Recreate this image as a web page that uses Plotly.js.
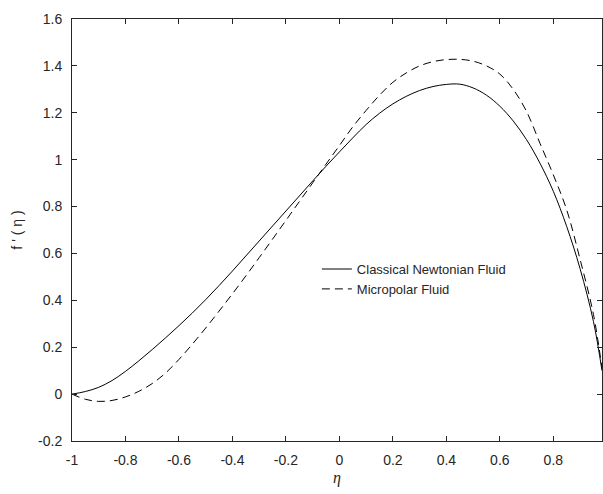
<!DOCTYPE html>
<html>
<head>
<meta charset="utf-8">
<script src="https://cdn.plot.ly/plotly-3.0.1.min.js"></script>
<style>
  html, body { margin: 0; padding: 0; background: #ffffff; }
  #chart { width: 603px; height: 494px; }
</style>
</head>
<body>
<div id="chart"></div>
<script>
// eta values (x axis)
var eta = [-1, -0.95, -0.9, -0.85, -0.8, -0.75, -0.7, -0.65, -0.6, -0.55, -0.5, -0.45, -0.4, -0.35, -0.3,
           -0.25, -0.2, -0.15, -0.1, -0.05, 0, 0.05, 0.1, 0.15, 0.2, 0.25, 0.3, 0.35, 0.4, 0.45,
           0.5, 0.55, 0.6, 0.65, 0.7, 0.75, 0.8, 0.85, 0.9, 0.95, 0.982];
// f'(eta) for the classical Newtonian fluid (solid)
var newtonian = [0, 0.011, 0.029, 0.058, 0.097, 0.142, 0.19, 0.24, 0.292, 0.346, 0.403, 0.463, 0.525, 0.589, 0.653,
                 0.717, 0.781, 0.845, 0.909, 0.972, 1.033, 1.093, 1.15, 1.198, 1.238, 1.27, 1.295, 1.312, 1.321, 1.322,
                 1.306, 1.275, 1.228, 1.165, 1.085, 0.985, 0.865, 0.715, 0.535, 0.31, 0.1];
// f'(eta) for the micropolar fluid (dashed)
var micropolar = [0, -0.022, -0.031, -0.027, -0.012, 0.012, 0.045, 0.09, 0.148, 0.213, 0.282, 0.354, 0.428, 0.504, 0.582,
                  0.661, 0.741, 0.821, 0.901, 0.981, 1.06, 1.14, 1.21, 1.275, 1.33, 1.37, 1.4, 1.418, 1.427, 1.428,
                  1.42, 1.4, 1.365, 1.3, 1.205, 1.07, 0.935, 0.786, 0.575, 0.34, 0.11];

var seriesNames = ['Classical Newtonian Fluid', 'Micropolar Fluid'];
var xTicks = [-1, -0.8, -0.6, -0.4, -0.2, 0, 0.2, 0.4, 0.6, 0.8];
var xTickText = ['-1', '-0.8', '-0.6', '-0.4', '-0.2', '0', '0.2', '0.4', '0.6', '0.8'];
var yTicks = [-0.2, 0, 0.2, 0.4, 0.6, 0.8, 1, 1.2, 1.4, 1.6];
var yTickText = ['-0.2', '0', '0.2', '0.4', '0.6', '0.8', '1', '1.2', '1.4', '1.6'];

var traces = [
  {
    x: eta, y: newtonian, name: seriesNames[0], type: 'scatter', mode: 'lines',
    line: { color: '#000000', width: 1, shape: 'spline', smoothing: 1 }
  },
  {
    x: eta, y: micropolar, name: seriesNames[1], type: 'scatter', mode: 'lines',
    line: { color: '#000000', width: 1, dash: '8px,5px', shape: 'spline', smoothing: 1 }
  }
];

var axisCommon = {
  showline: true, linecolor: '#262626', linewidth: 1, mirror: 'ticks',
  ticks: 'inside', ticklen: 5, tickwidth: 1, tickcolor: '#262626',
  showgrid: false, zeroline: false,
  tickfont: { family: 'Arial, "Liberation Sans", sans-serif', size: 14, color: '#262626' }
};

var layout = {
  width: 603, height: 494,
  margin: { l: 72, r: 1, t: 19, b: 53, pad: 0 },
  paper_bgcolor: '#ffffff', plot_bgcolor: '#ffffff',
  showlegend: true,
  legend: {
    x: 0.462, y: 0.443, xanchor: 'left', yanchor: 'top',
    bgcolor: 'rgba(255,255,255,0)', borderwidth: 0,
    font: { family: 'Arial, "Liberation Sans", sans-serif', size: 13, color: '#262626' },
    tracegroupgap: 0
  },
  xaxis: Object.assign({}, axisCommon, {
    range: [-1, 0.982], tickmode: 'array', tickvals: xTicks, ticktext: xTickText,
    ticklabelstandoff: 6,
    title: { text: '<i>η</i>', font: { family: '"Liberation Serif", "Times New Roman", serif', size: 16, color: '#262626' }, standoff: 5 }
  }),
  yaxis: Object.assign({}, axisCommon, {
    range: [-0.2, 1.6], tickmode: 'array', tickvals: yTicks, ticktext: yTickText,
    ticklabelstandoff: 6,
    title: { text: "f ' ( η )", font: { family: 'Arial, "Liberation Sans", sans-serif', size: 14, color: '#262626' }, standoff: 12 }
  })
};

Plotly.newPlot('chart', traces, layout, { displayModeBar: false, staticPlot: true });
</script>
</body>
</html>
